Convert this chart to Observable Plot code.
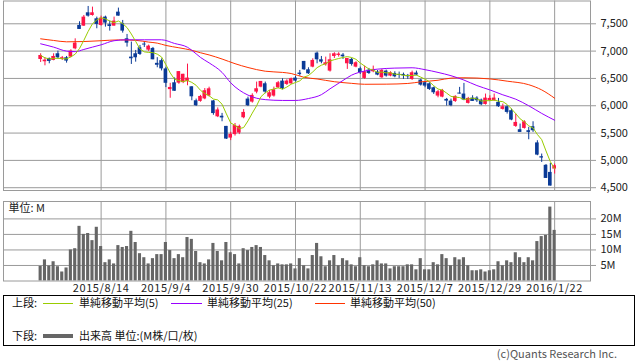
<!DOCTYPE html>
<html><head><meta charset="utf-8">
<script src="https://cdn.jsdelivr.net/npm/d3@7"></script>
<script src="https://cdn.jsdelivr.net/npm/@observablehq/plot@0.6"></script>
<style>
body{margin:0;background:#fff;}
#wrap{position:relative;width:638px;height:362px;overflow:hidden;font-family:'Noto Sans CJK JP',sans-serif;font-size:11px;color:#111;}
#price,#vol{position:absolute;left:0;}
#price{top:0px;}
#vol{top:200px;}
.a{position:absolute;line-height:13px;white-space:nowrap;}
.ln{position:absolute;height:0;}
</style></head><body>
<div id="wrap">
<div id="price"></div>
<div id="vol"></div>
<div style="position:absolute;left:3px;top:295px;width:632px;height:51px;border:1px solid #000;box-sizing:border-box;"></div>
<div class="a" style="left:12px;top:296px;">上段:</div>
<div class="ln" style="left:43px;top:303px;width:30px;border-top:1px solid #99cc00;"></div>
<div class="a" style="left:79px;top:296px;">単純移動平均(5)</div>
<div class="ln" style="left:171px;top:303px;width:31px;border-top:1px solid #9a00ff;"></div>
<div class="a" style="left:207px;top:296px;">単純移動平均(25)</div>
<div class="ln" style="left:315px;top:303px;width:30px;border-top:1px solid #ff3300;"></div>
<div class="a" style="left:350px;top:296px;">単純移動平均(50)</div>
<div class="a" style="left:12px;top:329px;">下段:</div>
<div class="ln" style="left:43px;top:334px;width:30px;border-top:4px solid #666;"></div>
<div class="a" style="left:79px;top:329px;">出来高 単位:(M株/口/枚)</div>
<div class="a" style="right:21px;top:347px;color:#555;">(c)Quants Research Inc.</div>
</div>
<script>
// Daily candles, trading-day index 0..119 (2015/7/27 .. 2016/1/22)
const open  = [6847,6805,6866,6829,6951,6853,6878,6890,7042,7470,7457,7701,7652,7591,7470,7622,7482,7457,7713,7500,
               7225,6890,6951,7061,7128,7018,7049,6776,6825,6674,6295,6420,6414,6424,6445,6347,6091,6080,6125,6180,
               6088,5798,5808,5622,5408,5472,5500,5780,6122,6067,6250,6341,6402,6158,6177,6329,6451,6390,6402,6506,
               6597,6811,6658,6707,6963,6841,6750,6634,6902,6921,6927,6768,6848,6707,6677,6500,6652,6622,6616,6512,
               6634,6543,6591,6573,6573,6555,6482,6598,6470,6421,6402,6329,6177,6158,6116,6085,6079,6232,6214,6043,
               6140,6140,6104,6024,6092,6092,6061,5933,5982,5909,5622,5561,5585,5543,5616,5320,5067,4910,4780,4841];
const high  = [6951,6878,6872,6951,7000,6902,6902,7024,7225,7537,7652,7817,7805,7622,7640,7640,7549,7622,7787,7561,
               7305,7165,7012,7104,7165,7110,7067,6880,6857,6704,6411,6509,6625,6576,6762,6347,6122,6190,6315,6340,
               6095,5960,5860,5622,5515,5676,5646,5930,6158,6219,6433,6445,6433,6280,6341,6445,6494,6475,6506,6536,
               6646,6811,6695,6860,6982,6902,6890,6951,6970,6970,6957,6866,6866,6805,6707,6726,6683,6726,6646,6665,
               6652,6622,6622,6616,6598,6573,6634,6634,6482,6451,6421,6341,6280,6299,6134,6122,6183,6336,6409,6153,
               6183,6165,6122,6214,6183,6214,6134,6031,6000,5939,5848,5665,5726,5604,5707,5360,5116,4925,4945,4933];
const low   = [6792,6731,6768,6823,6853,6829,6780,6878,7024,7396,7451,7622,7640,7409,7457,7439,7366,7457,7640,7329,
               7073,6756,6798,6921,7067,6994,6841,6695,6637,6332,6137,6265,6393,6405,6366,6091,5987,6065,6110,6160,
               5826,5783,5707,5384,5362,5445,5472,5762,5985,6048,6219,6329,6219,6128,6158,6311,6292,6372,6390,6433,
               6542,6646,6573,6695,6768,6768,6725,6616,6866,6890,6848,6665,6726,6695,6573,6482,6573,6604,6549,6500,
               6524,6530,6512,6500,6482,6482,6463,6549,6360,6329,6280,6207,6146,6146,5994,5982,6061,6214,6092,6031,
               6079,6061,6000,6012,6079,6079,5970,5921,5848,5726,5604,5512,5573,5378,5512,5085,4963,4670,4530,4750];
const close = [6920,6835,6811,6902,6878,6878,6817,7000,7146,7396,7622,7640,7701,7488,7604,7512,7451,7549,7640,7366,
               7146,6860,6878,6939,7112,7091,6841,6741,6675,6411,6335,6265,6625,6576,6506,6164,6000,6170,6275,6310,
               5857,5923,5777,5390,5478,5637,5622,5878,6000,6189,6311,6445,6250,6238,6292,6421,6311,6451,6494,6451,
               6573,6658,6585,6829,6841,6799,6786,6841,6951,6945,6896,6866,6756,6787,6604,6622,6591,6665,6561,6646,
               6543,6604,6530,6555,6549,6530,6604,6561,6378,6360,6299,6238,6256,6280,6085,6000,6171,6214,6104,6134,
               6079,6092,6018,6140,6134,6140,5982,5982,5878,5738,5695,5512,5707,5512,5543,5097,5043,4670,4530,4902];
// Volume, millions of shares
const volume = [4.7,6.8,4.8,6.2,4.6,2.9,4.2,10.0,10.4,17.6,15.0,15.3,13.0,17.3,11.1,5.9,6.8,5.5,11.4,10.8,
                11.1,16.0,12.4,8.8,7.5,5.5,7.2,8.5,8.5,12.4,9.8,7.2,8.5,7.5,14.0,13.4,9.5,5.9,5.5,6.8,
                12.1,9.5,6.5,12.4,9.1,8.5,5.5,10.4,9.8,10.8,11.4,10.8,8.2,6.5,4.9,5.5,5.2,5.2,5.5,3.9,
                7.2,4.9,3.9,8.2,12.1,7.8,4.6,6.5,8.2,4.9,7.2,6.5,5.2,4.6,7.5,4.9,4.6,5.2,6.5,5.5,
                5.5,3.9,4.6,4.6,4.6,5.2,5.2,3.6,7.2,3.6,3.6,5.9,5.2,8.5,7.2,4.9,7.5,6.8,7.5,4.9,
                3.3,3.3,3.6,2.9,3.3,3.6,6.2,4.9,6.5,5.9,9.1,7.5,5.9,7.5,6.5,12.7,14.3,14.7,23.8,16.3];
// Moving averages: [trading-day index, value]
const ma25 = [[0,7134],[3,7073],[6,7000],[8,6990],[10,7030],[12,7073],[14,7115],[17,7190],[20,7207],[24,7207],
              [28,7207],[31,7140],[34,7070],[36,6950],[37,6885],[39,6785],[42,6610],[44,6420],[48,6195],[52,6112],
              [56,6097],[59,6097],[62,6132],[65,6203],[67,6310],[70,6463],[72,6560],[75,6635],[78,6670],[82,6689],
              [86,6695],[89,6660],[92,6610],[95,6550],[98,6470],[101,6370],[104,6290],[107,6200],[110,6120],[113,6000],
              [116,5860],[119,5735]];
const ma50 = [[0,7225],[3,7195],[6,7170],[10,7175],[14,7190],[18,7205],[22,7197],[25,7165],[27,7146],[29,7104],
              [32,7061],[35,7015],[37,6970],[39,6930],[42,6855],[45,6770],[48,6700],[52,6632],[56,6610],[58,6590],
              [61,6520],[64,6490],[68,6440],[72,6410],[75,6393],[80,6395],[85,6408],[88,6437],[92,6467],[95,6505],
              [98,6512],[104,6491],[108,6450],[113,6385],[116,6290],[119,6138]];
// Axis ticks
const tickIdx = [14,29,44,59,74,89,104,119];
const tickLabels = ["2015/8/14","2015/9/4","2015/9/30","2015/10/22","2015/11/13","2015/12/7","2015/12/29","2016/1/22"];
const priceTicks = [4500,5000,5500,6000,6500,7000,7500];
const volTicks = [5,10,15,20];

const labelOf = new Map(tickIdx.map((t,k)=>[t,tickLabels[k]]));
const rows = open.map((o,i)=>({i, open:o, high:high[i], low:low[i], close:close[i], vol:volume[i]}));
const RED="#ff1447", BLUE="#0a3a96", GRID="#9a9a9a";
const col = d => d.close >= d.open ? RED : BLUE;
const font = "'Noto Sans CJK JP', sans-serif";
const xDom = [-8.6,127.3];

const price = Plot.plot({
  width:638, height:191, marginLeft:3, marginRight:48, marginTop:0.5, marginBottom:1,
  x:{domain:xDom, axis:null},
  y:{domain:[4449,7917]},
  style:{fontFamily:font, fontSize:"11px", background:"transparent", overflow:"visible"},
  marks:[
    Plot.ruleY(priceTicks,{stroke:GRID}),
    Plot.ruleX(tickIdx,{stroke:GRID}),
    Plot.frame({stroke:GRID}),
    Plot.axisY(priceTicks,{anchor:"right", tickSize:5, tickPadding:5, tickFormat:d3.format(","), stroke:GRID, fill:"#222", label:null}),
    Plot.ruleX(rows,{x:"i", y1:"low", y2:"high", stroke:col, strokeWidth:1}),
    Plot.rect(rows,{x1:d=>d.i-0.42, x2:d=>d.i+0.42, y1:"open", y2:"close", fill:col}),
    Plot.line(ma50,{x:d=>d[0], y:d=>d[1], stroke:"#ff3300", strokeWidth:1, curve:"monotone-x"}),
    Plot.line(ma25,{x:d=>d[0], y:d=>d[1], stroke:"#9a00ff", strokeWidth:1, curve:"monotone-x"}),
    Plot.lineY(rows, Plot.windowY({k:5, anchor:"end", reduce:"mean"}, {x:"i", y:"close", stroke:"#99cc00", strokeWidth:1}))
  ]
});
document.getElementById("price").appendChild(price);

const vol = Plot.plot({
  width:638, height:101, marginLeft:3, marginRight:48, marginTop:1, marginBottom:20.5,
  x:{domain:xDom},
  y:{domain:[0,25.6]},
  style:{fontFamily:font, fontSize:"11px", background:"transparent", overflow:"visible"},
  marks:[
    Plot.ruleY(volTicks,{stroke:GRID}),
    Plot.ruleX(tickIdx,{stroke:GRID}),
    Plot.rectY(rows,{x1:d=>d.i-0.36, x2:d=>d.i+0.36, y:"vol", fill:"#666"}),
    Plot.frame({stroke:GRID}),
    Plot.axisY(volTicks,{anchor:"right", tickSize:5, tickPadding:5, tickFormat:d=>d+"M", stroke:GRID, fill:"#222", label:null}),
    Plot.axisX(tickIdx,{tickSize:0, tickPadding:3, tickFormat:d=>labelOf.get(d), fill:"#222", label:null}),
    Plot.text(["単位: M"],{frameAnchor:"top-left", dx:5, dy:3, text:d=>d, textAnchor:"start", lineAnchor:"top", fill:"#222"})
  ]
});
d3.select(vol).selectAll("g[aria-label='x-axis tick label'] text").attr("letter-spacing","0.6px");
document.getElementById("vol").appendChild(vol);
</script>
</body></html>
